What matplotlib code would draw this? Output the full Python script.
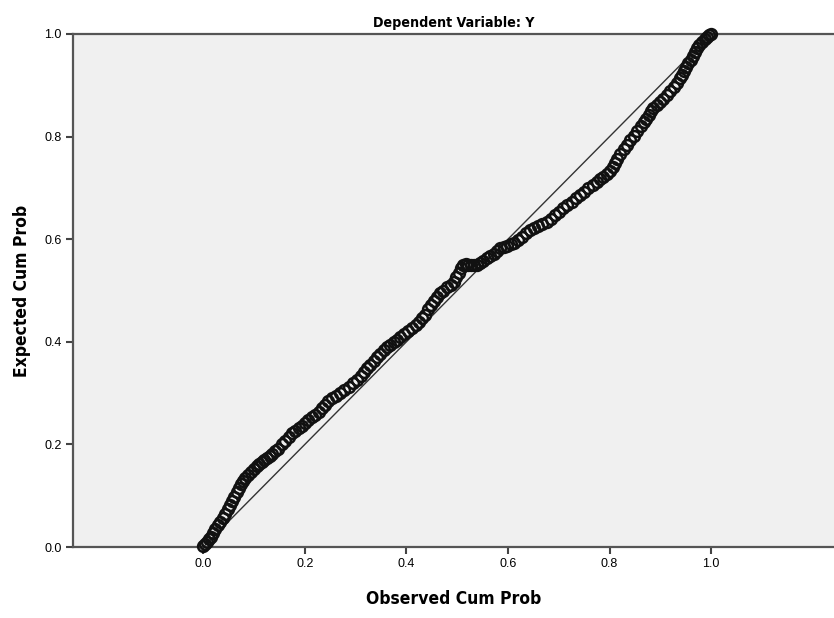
import matplotlib
matplotlib.use("Agg")
import matplotlib.pyplot as plt
from matplotlib import font_manager

observed = [0.000, 0.004, 0.008, 0.012, 0.016, 0.020, 0.024, 0.029, 0.033, 0.038, 0.043, 0.048, 0.053, 0.057, 0.061, 0.066, 0.070, 0.075, 0.079, 0.083,
            0.089, 0.094, 0.100, 0.106, 0.110, 0.115, 0.120, 0.125, 0.131, 0.136, 0.142, 0.148, 0.155, 0.161, 0.168, 0.175, 0.181, 0.188, 0.194, 0.201, 0.207, 0.214, 0.220, 0.227, 0.233, 0.240, 0.246, 0.253,
            0.261, 0.270, 0.278, 0.286, 0.294, 0.303, 0.310, 0.316, 0.323, 0.329, 0.336, 0.342, 0.349, 0.355, 0.362, 0.368, 0.375, 0.381, 0.388, 0.396, 0.404, 0.411, 0.418, 0.424, 0.431, 0.437,
            0.443, 0.449, 0.455, 0.461, 0.467, 0.473, 0.480, 0.487, 0.493, 0.498, 0.503, 0.508, 0.512,
            0.517, 0.522, 0.528, 0.533, 0.539, 0.545, 0.551, 0.558, 0.565, 0.572, 0.578, 0.585,
            0.592, 0.598, 0.605, 0.611, 0.619, 0.628, 0.636, 0.644, 0.652, 0.660, 0.668, 0.677, 0.685, 0.693, 0.701, 0.709, 0.717, 0.726, 0.734, 0.742, 0.750, 0.758, 0.767, 0.775, 0.781, 0.788, 0.795, 0.801,
            0.806, 0.810, 0.814, 0.821, 0.828, 0.834, 0.841, 0.848, 0.854, 0.861, 0.867, 0.872, 0.877, 0.882, 0.886, 0.893, 0.900, 0.906, 0.913, 0.920, 0.926, 0.932, 0.939, 0.943, 0.947, 0.951, 0.955, 0.960, 0.964, 0.968, 0.972, 0.977, 0.982, 0.987, 0.991, 0.996, 1.000]
expected = [0.002, 0.006, 0.010, 0.015, 0.020, 0.028, 0.036, 0.042, 0.049, 0.057, 0.065, 0.074, 0.082, 0.089, 0.097, 0.108, 0.115, 0.122, 0.129, 0.135,
            0.141, 0.147, 0.152, 0.157, 0.161, 0.165, 0.169, 0.173, 0.178, 0.182, 0.187, 0.192, 0.200, 0.207, 0.215, 0.222, 0.227, 0.232, 0.236, 0.241, 0.247, 0.253, 0.258, 0.264, 0.270, 0.277, 0.284, 0.290,
            0.295, 0.301, 0.306, 0.312, 0.319, 0.326, 0.334, 0.341, 0.348, 0.355, 0.363, 0.370, 0.377, 0.384, 0.389, 0.394, 0.399, 0.404, 0.409, 0.415, 0.421, 0.426, 0.432, 0.439, 0.446, 0.452,
            0.463, 0.472, 0.480, 0.488, 0.495, 0.500, 0.506, 0.511, 0.517, 0.526, 0.535, 0.543, 0.550,
            0.551, 0.550, 0.550, 0.550, 0.550, 0.553, 0.558, 0.563, 0.567, 0.572, 0.577, 0.582,
            0.585, 0.587, 0.590, 0.592, 0.598, 0.605, 0.612, 0.618, 0.622, 0.626, 0.630, 0.634, 0.640, 0.647, 0.653, 0.660, 0.667, 0.673, 0.680, 0.686, 0.692, 0.699, 0.706, 0.712, 0.717, 0.722, 0.727, 0.732,
            0.740, 0.748, 0.756, 0.766, 0.775, 0.784, 0.793, 0.802, 0.811, 0.820, 0.829, 0.835, 0.842, 0.849, 0.855, 0.861, 0.868, 0.874, 0.881, 0.889, 0.897, 0.905, 0.914, 0.921, 0.928, 0.936, 0.943, 0.950, 0.957, 0.965, 0.972, 0.978, 0.984, 0.990, 0.995, 0.998, 1.000]

x_ticks = [0.0, 0.2, 0.4, 0.6, 0.8, 1.0]
y_ticks = [0.0, 0.2, 0.4, 0.6, 0.8, 1.0]
title_text = "Dependent Variable: Y"
x_label = "Observed Cum Prob"
y_label = "Expected Cum Prob"

names = {f.name for f in font_manager.fontManager.ttflist}
bold_family = "Liberation Sans Narrow" if "Liberation Sans Narrow" in names else "DejaVu Sans"
bold_kw = dict(fontfamily=bold_family, fontweight="bold", fontstretch="condensed")

fig = plt.figure(figsize=(8.34, 6.18), dpi=100)
ax = fig.add_axes([73 / 834, 71 / 618, 1 - 73 / 834, (547 - 34) / 618])
ax.set_facecolor("#f0f0f0")

ax.plot([0, 1], [0, 1], color="#333333", linewidth=1.0, zorder=2)
ax.plot(observed, expected, linestyle="none", marker="o", markersize=7.8,
        markerfacecolor="none", markeredgecolor="#111111", markeredgewidth=1.8, zorder=3,
        clip_on=False)

ax.set_xlim(-0.2565, 1.242)
ax.set_ylim(0.0, 1.0)
ax.set_xticks(x_ticks)
ax.set_yticks(y_ticks)
ax.set_xticklabels([f"{t:.1f}" for t in x_ticks], fontfamily="Liberation Sans", fontsize=9)
ax.set_yticklabels([f"{t:.1f}" for t in y_ticks], fontfamily="Liberation Sans", fontsize=9)
ax.tick_params(direction="out", length=5, width=1.5, color="#444444", pad=3)

for s in ["left", "bottom", "top"]:
    ax.spines[s].set_color("#555555")
    ax.spines[s].set_linewidth(1.6)
ax.spines["right"].set_visible(False)

ax.set_xlabel(x_label, fontsize=12.5, labelpad=14, **bold_kw)
ax.set_ylabel(y_label, fontsize=12.5, labelpad=10, **bold_kw)
ax.set_title(title_text, fontsize=10.2, pad=5, **bold_kw)

fig.savefig("out.png", dpi=100)
